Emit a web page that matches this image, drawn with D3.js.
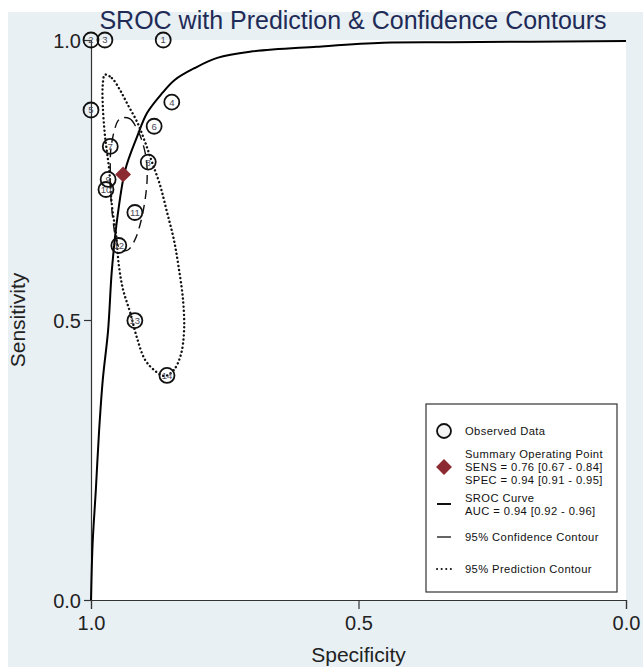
<!DOCTYPE html>
<html>
<head>
<meta charset="utf-8">
<script src="https://cdn.jsdelivr.net/npm/d3@7"></script>
<style>
  body { margin: 0; background: #fff; }
  text { font-family: "Liberation Sans", Arial, sans-serif; }
</style>
</head>
<body>
<svg width="643" height="667"></svg>
<script>
// observed studies: id, specificity, sensitivity
const studyIds = [1, 2, 3, 4, 5, 6, 7, 8, 9, 10, 11, 12, 13, 14];
const studySpec = [0.865, 1.0, 0.974, 0.849, 1.0, 0.882, 0.964, 0.893, 0.968, 0.972, 0.918, 0.948, 0.918, 0.858];
const studySens = [1.0, 1.0, 1.0, 0.889, 0.875, 0.846, 0.810, 0.782, 0.751, 0.733, 0.692, 0.633, 0.499, 0.401];

// summary operating point
const summarySpec = 0.94;
const summarySens = 0.76;

// SROC curve
const srocSpec = [1.0, 0.997, 0.991, 0.985, 0.978, 0.968, 0.961, 0.950, 0.936, 0.914, 0.895, 0.867, 0.843, 0.806, 0.764, 0.703, 0.578, 0.454, 0.329, 0.0];
const srocSens = [0.0, 0.100, 0.196, 0.300, 0.393, 0.482, 0.589, 0.688, 0.768, 0.827, 0.870, 0.905, 0.929, 0.950, 0.968, 0.979, 0.988, 0.995, 0.996, 0.998];

// 95% confidence contour
const confSpec = [0.942, 0.927, 0.916, 0.905, 0.897, 0.895, 0.899, 0.907, 0.918, 0.931, 0.944, 0.953, 0.959, 0.963, 0.964, 0.963, 0.957, 0.950];
const confSens = [0.861, 0.859, 0.845, 0.821, 0.789, 0.754, 0.714, 0.675, 0.643, 0.625, 0.625, 0.643, 0.679, 0.723, 0.768, 0.804, 0.836, 0.855];

// 95% prediction contour
const predSpec = [0.974, 0.961, 0.946, 0.931, 0.914, 0.899, 0.886, 0.871, 0.858, 0.845, 0.836, 0.828, 0.826, 0.832, 0.845, 0.862, 0.880, 0.899, 0.914, 0.927, 0.940, 0.948, 0.953, 0.961, 0.966, 0.974, 0.978, 0.978];
const predSens = [0.938, 0.932, 0.911, 0.884, 0.854, 0.818, 0.782, 0.741, 0.693, 0.643, 0.593, 0.536, 0.482, 0.438, 0.411, 0.400, 0.409, 0.429, 0.468, 0.514, 0.554, 0.598, 0.652, 0.705, 0.768, 0.830, 0.884, 0.920];

const tickVals = [1.0, 0.5, 0.0];

const legendLines = [
  ["Observed Data"],
  ["Summary Operating Point", "SENS = 0.76 [0.67 - 0.84]", "SPEC = 0.94 [0.91 - 0.95]"],
  ["SROC Curve", "AUC = 0.94 [0.92 - 0.96]"],
  ["95% Confidence Contour"],
  ["95% Prediction Contour"]
];

const svg = d3.select("svg");
const pLeft = 91, pRight = 626, pTop = 40, pBottom = 600;

// background panels
svg.append("rect").attr("x", 8).attr("y", 12).attr("width", 635).attr("height", 655).attr("fill", "#e8f0f4");
svg.append("rect").attr("x", pLeft).attr("y", pTop).attr("width", pRight - pLeft).attr("height", pBottom - pTop).attr("fill", "#fff");

const x = d3.scaleLinear().domain([1, 0]).range([pLeft, pRight]);
const y = d3.scaleLinear().domain([0, 1]).range([pBottom, pTop]);

// axes
const xAxis = svg.append("g").attr("transform", `translate(0,${pBottom})`)
  .call(d3.axisBottom(x).tickValues(tickVals).tickFormat(d3.format(".1f")).tickSize(9).tickPadding(7));
const yAxis = svg.append("g").attr("transform", `translate(${pLeft},0)`)
  .call(d3.axisLeft(y).tickValues(tickVals).tickFormat(d3.format(".1f")).tickSize(7).tickPadding(3));
[xAxis, yAxis].forEach(g => {
  g.select(".domain").attr("stroke", "#333").attr("stroke-width", 1.2);
  g.selectAll(".tick line").attr("stroke", "#333").attr("stroke-width", 1.2);
  g.selectAll(".tick text").attr("font-size", 20).attr("fill", "#222")
    .style("font-family", "'Liberation Sans', Arial, sans-serif");
});
yAxis.selectAll(".tick text").attr("dy", "0.36em");

svg.append("text").attr("x", x(0.5)).attr("y", 662).attr("text-anchor", "middle")
  .attr("font-size", 21).attr("fill", "#222").text("Specificity");
svg.append("text").attr("transform", `translate(25,${y(0.5)}) rotate(-90)`).attr("text-anchor", "middle")
  .attr("font-size", 21).attr("fill", "#222").text("Sensitivity");

svg.append("text").attr("x", 353).attr("y", 29).attr("text-anchor", "middle")
  .attr("font-size", 25).attr("fill", "#1f2b57").text("SROC with Prediction & Confidence Contours");

// curves
const srocData = srocSpec.map((s, i) => [s, srocSens[i]]);
const srocLine = d3.line().x(d => x(d[0])).y(d => y(d[1])).curve(d3.curveCatmullRom.alpha(0.5));
svg.append("path")
  .attr("d", srocLine(srocData))
  .attr("fill", "none").attr("stroke", "#000").attr("stroke-width", 2);

const closed = d3.line().x(d => x(d[0])).y(d => y(d[1])).curve(d3.curveCatmullRomClosed);
svg.append("path")
  .attr("d", closed(confSpec.map((s, i) => [s, confSens[i]])))
  .attr("fill", "none").attr("stroke", "#111").attr("stroke-width", 1.4).attr("stroke-dasharray", "9,6");
svg.append("path")
  .attr("d", closed(predSpec.map((s, i) => [s, predSens[i]])))
  .attr("fill", "none").attr("stroke", "#111").attr("stroke-width", 2.4)
  .attr("stroke-dasharray", "0.1,4").attr("stroke-linecap", "round");

// observed points
const pts = svg.append("g").selectAll("g").data(studyIds).enter().append("g")
  .attr("transform", (d, i) => `translate(${x(studySpec[i])},${y(studySens[i])})`);
pts.append("circle").attr("r", 7.5).attr("fill", "none").attr("stroke", "#111").attr("stroke-width", 1.8);
pts.append("text").attr("text-anchor", "middle").attr("dy", "0.36em").attr("font-size", 9.5)
  .attr("fill", "#4a4a55").text(d => d);

// summary point
svg.append("path").attr("d", d3.symbol(d3.symbolDiamond2, 160)())
  .attr("transform", `translate(${x(summarySpec)},${y(summarySens)})`).attr("fill", "#8c2a31");

// legend
const lg = svg.append("g");
lg.append("rect").attr("x", 426).attr("y", 404).attr("width", 191).attr("height", 188)
  .attr("fill", "#fff").attr("stroke", "#333").attr("stroke-width", 1.2);
const rowY = [431, 467, 504, 537, 569];
const lineStarts = [[431], [454, 467, 480], [498, 511], [537], [569]];
legendLines.forEach((rows, i) => {
  rows.forEach((t, j) => {
    lg.append("text").attr("x", 465).attr("y", lineStarts[i][j]).attr("dy", "0.35em")
      .attr("font-size", 11.2).attr("letter-spacing", 0.4).attr("fill", "#111").text(t);
  });
});
lg.append("circle").attr("cx", 444).attr("cy", rowY[0]).attr("r", 7).attr("fill", "#f4f4f4")
  .attr("stroke", "#111").attr("stroke-width", 1.8);
lg.append("path").attr("d", d3.symbol(d3.symbolDiamond2, 160)())
  .attr("transform", `translate(444,${rowY[1]})`).attr("fill", "#8c2a31");
lg.append("line").attr("x1", 437).attr("x2", 451).attr("y1", rowY[2]).attr("y2", rowY[2])
  .attr("stroke", "#111").attr("stroke-width", 2);
lg.append("line").attr("x1", 437).attr("x2", 451).attr("y1", rowY[3]).attr("y2", rowY[3])
  .attr("stroke", "#111").attr("stroke-width", 1.3);
lg.append("line").attr("x1", 437).attr("x2", 452).attr("y1", rowY[4]).attr("y2", rowY[4])
  .attr("stroke", "#111").attr("stroke-width", 2).attr("stroke-dasharray", "0.1,4.5")
  .attr("stroke-linecap", "round");
</script>
</body>
</html>
